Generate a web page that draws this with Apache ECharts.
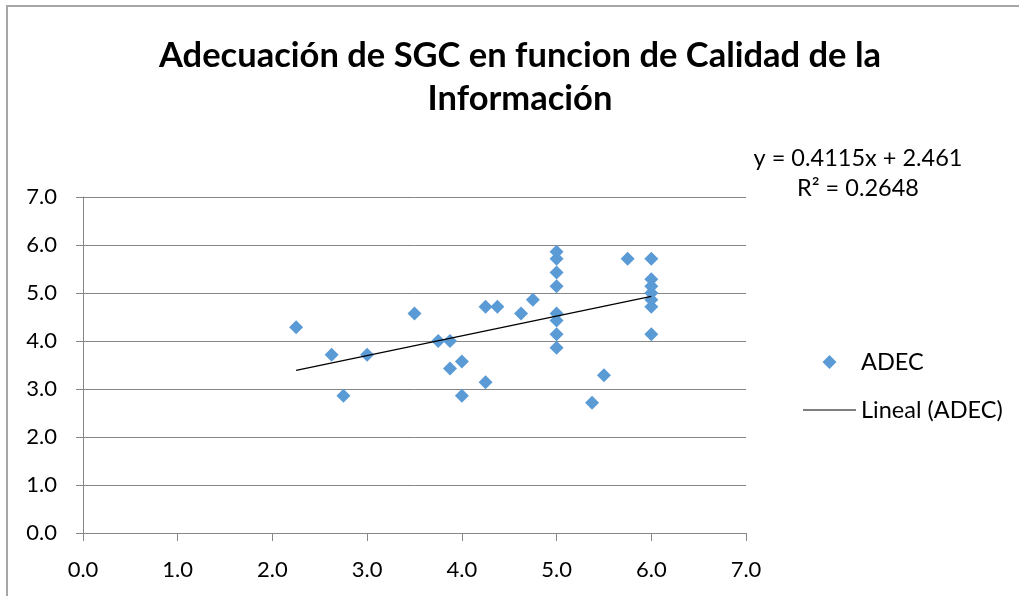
<!DOCTYPE html>
<html>
<head>
<meta charset="utf-8">
<script src="https://cdn.jsdelivr.net/npm/echarts@6/dist/echarts.min.js"></script>
<style>
html,body{margin:0;padding:0;background:#fff;}
#chart{width:1019px;height:596px;}
</style>
</head>
<body>
<div id="chart"></div>
<script>
// Data
var titleText = 'Adecuación de SGC en funcion de Calidad de la\nInformación';
var seriesName = 'ADEC';
var trendName = 'Lineal (ADEC)';
var xVals = [2.25, 2.625, 2.75, 3.0, 3.5, 3.75, 3.875, 3.875, 4.0, 4.0, 4.25, 4.375, 4.25, 4.625, 4.75,
             5.0, 5.0, 5.0, 5.0, 5.0, 5.0, 5.0, 5.0, 5.75,
             6.0, 6.0, 6.0, 6.0, 6.0, 6.0, 6.0, 5.5, 5.375];
var yVals = [4.286, 3.714, 2.857, 3.714, 4.571, 4.0, 4.0, 3.429, 3.571, 2.857, 4.714, 4.714, 3.143, 4.571, 4.857,
             5.857, 5.714, 5.429, 5.143, 4.571, 4.429, 4.143, 3.857, 5.714,
             5.714, 5.286, 5.143, 5.0, 4.857, 4.714, 4.143, 3.286, 2.714];
var trendCoef = [0.4115, 2.461];          // slope, intercept
var trendRange = [2.25, 6.0];             // x extent of the trend line
var equationLines = ['y = 0.4115x + 2.461', 'R² = 0.2648'];
var axisTicks = [0, 1, 2, 3, 4, 5, 6, 7];

var points = xVals.map(function (x, i) { return [x, yVals[i]]; });
var trendPts = trendRange.map(function (x) { return [x, trendCoef[0] * x + trendCoef[1]]; });

var FONT = 'Lato, "Open Sans", sans-serif';
var AX = '#868686';
var BLUE = '#5b9bd5';

var chart = echarts.init(document.getElementById('chart'), null, {renderer: 'canvas'});
chart.setOption({
  backgroundColor: '#ffffff',
  animation: false,
  title: {
    text: titleText,
    left: 520,
    textAlign: 'center',
    top: 34,
    padding: 0,
    textStyle: {fontFamily: FONT, fontWeight: 'bold', fontSize: 34.5, lineHeight: 43, color: '#000'}
  },
  legend: [{
    data: [{name: seriesName,
      icon: 'path://M0,7L0.01,7L0.01,7.01Z M53,7L52.99,7L52.99,7.01Z M26.5,0L33.5,7L26.5,14L19.5,7Z',
      itemStyle: {color: BLUE}}],
    orient: 'vertical',
    left: 803, top: 350, padding: 0,
    symbolKeepAspect: true,
    itemWidth: 53, itemHeight: 14, itemGap: 0,
    textStyle: {fontFamily: FONT, fontSize: 23.5, color: '#000'}
  }, {
    data: [{name: trendName, icon: 'path://M0,0L53,0L53,1.2L0,1.2Z', itemStyle: {color: '#000'}}],
    orient: 'vertical',
    left: 803, top: 398, padding: 0,
    symbolKeepAspect: true,
    itemWidth: 53, itemHeight: 14, itemGap: 0,
    textStyle: {fontFamily: FONT, fontSize: 23.5, color: '#000'}
  }],
  grid: {left: 83, right: 273, top: 197, bottom: 63, containLabel: false},
  xAxis: {
    type: 'value', min: axisTicks[0], max: axisTicks[axisTicks.length - 1], interval: 1,
    axisLine: {show: true, lineStyle: {color: AX, width: 1}},
    axisTick: {show: true, inside: false, length: 8, lineStyle: {color: AX}},
    splitLine: {show: false},
    axisLabel: {margin: 26, fontFamily: FONT, fontSize: 22, color: '#000',
      formatter: function (v) { return v.toFixed(1); }}
  },
  yAxis: {
    type: 'value', min: axisTicks[0], max: axisTicks[axisTicks.length - 1], interval: 1,
    axisLine: {show: true, lineStyle: {color: AX, width: 1}},
    axisTick: {show: true, inside: false, length: 7, lineStyle: {color: AX}},
    splitLine: {show: true, lineStyle: {color: AX, width: 1}},
    axisLabel: {margin: 26, fontFamily: FONT, fontSize: 22, color: '#000',
      formatter: function (v) { return v.toFixed(1); }}
  },
  graphic: [{
    type: 'rect',
    shape: {x: 7, y: 6, width: 1200, height: 800},
    style: {fill: null, stroke: '#a6a6a6', lineWidth: 2},
    silent: true, z: -10
  }, {
    type: 'text',
    x: 858, y: 158,
    style: {text: equationLines[0], fontFamily: FONT, fontSize: 23.5, fill: '#000',
      textAlign: 'center', textVerticalAlign: 'middle'}
  }, {
    type: 'text',
    x: 858, y: 188,
    style: {text: equationLines[1], fontFamily: FONT, fontSize: 23.5, fill: '#000',
      textAlign: 'center', textVerticalAlign: 'middle'}
  }],
  series: [{
    name: seriesName,
    type: 'scatter',
    data: points,
    symbol: 'diamond',
    symbolSize: 14,
    itemStyle: {color: BLUE, opacity: 1}
  }, {
    name: trendName,
    type: 'line',
    data: trendPts,
    symbol: 'none',
    lineStyle: {color: '#000', width: 1.2},
    itemStyle: {color: '#000'},
    z: 3
  }]
});
</script>
</body>
</html>
